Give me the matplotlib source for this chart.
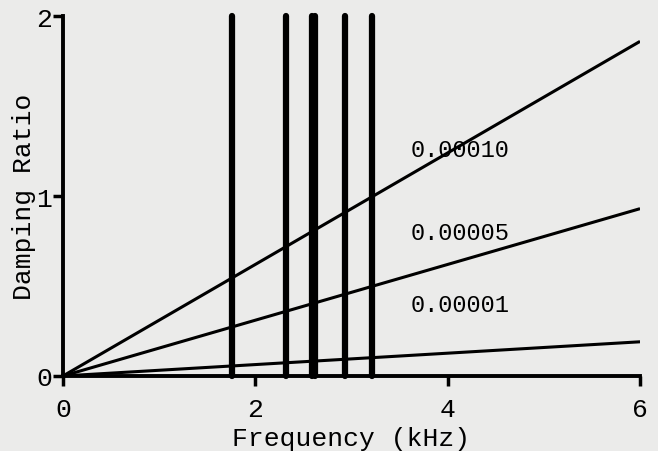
import matplotlib
matplotlib.use('Agg')
import matplotlib.pyplot as plt

# damping ratio lines (end points)
freq_ends = [0, 6]
ratio_ends = {
    '0.00010': [0, 1.86],
    '0.00005': [0, 0.93],
    '0.00001': [0, 0.19],
}
label_pos = {
    '0.00010': (3.61, 1.26),
    '0.00005': (3.61, 0.80),
    '0.00001': (3.61, 0.40),
}
# resonance frequencies (kHz)
modes = [1.76, 2.32, 2.59, 2.62, 2.93, 3.21]
xticks = [0, 2, 4, 6]
yticks = [0, 1, 2]

bg = '#ebebea'
font = 'Liberation Mono'

fig = plt.figure(figsize=(6.58, 4.52), dpi=100, facecolor=bg)
ax = fig.add_axes([0.0957, 0.166, 0.877, 0.796])
ax.set_facecolor(bg)

for name, ys in ratio_ends.items():
    ax.plot(freq_ends, ys, color='black', lw=2.2, solid_capstyle='butt')
    tx, ty = label_pos[name]
    ax.text(tx, ty, name, fontsize=17, family=font, va='center', ha='left')

for f in modes:
    ax.plot([f, f], [0, 2], color='black', lw=4.5, solid_capstyle='round', clip_on=False)

ax.set_xlim(0, 6)
ax.set_ylim(0, 2)
ax.set_xticks(xticks)
ax.set_yticks(yticks)
ax.spines['top'].set_visible(False)
ax.spines['right'].set_visible(False)
ax.spines['left'].set_linewidth(2.8)
ax.spines['bottom'].set_linewidth(2.8)
ax.tick_params(direction='out', length=7, width=2.5, labelsize=19)
ax.tick_params(axis='x', pad=8)
ax.tick_params(axis='y', pad=1)
for lab in ax.get_xticklabels() + ax.get_yticklabels():
    lab.set_family(font)

ax.set_xlabel('Frequency (kHz)', fontsize=19, family=font, labelpad=4)
ax.set_ylabel('Damping Ratio', fontsize=19, family=font, labelpad=0)

fig.savefig('out.png', dpi=100, facecolor=bg)
